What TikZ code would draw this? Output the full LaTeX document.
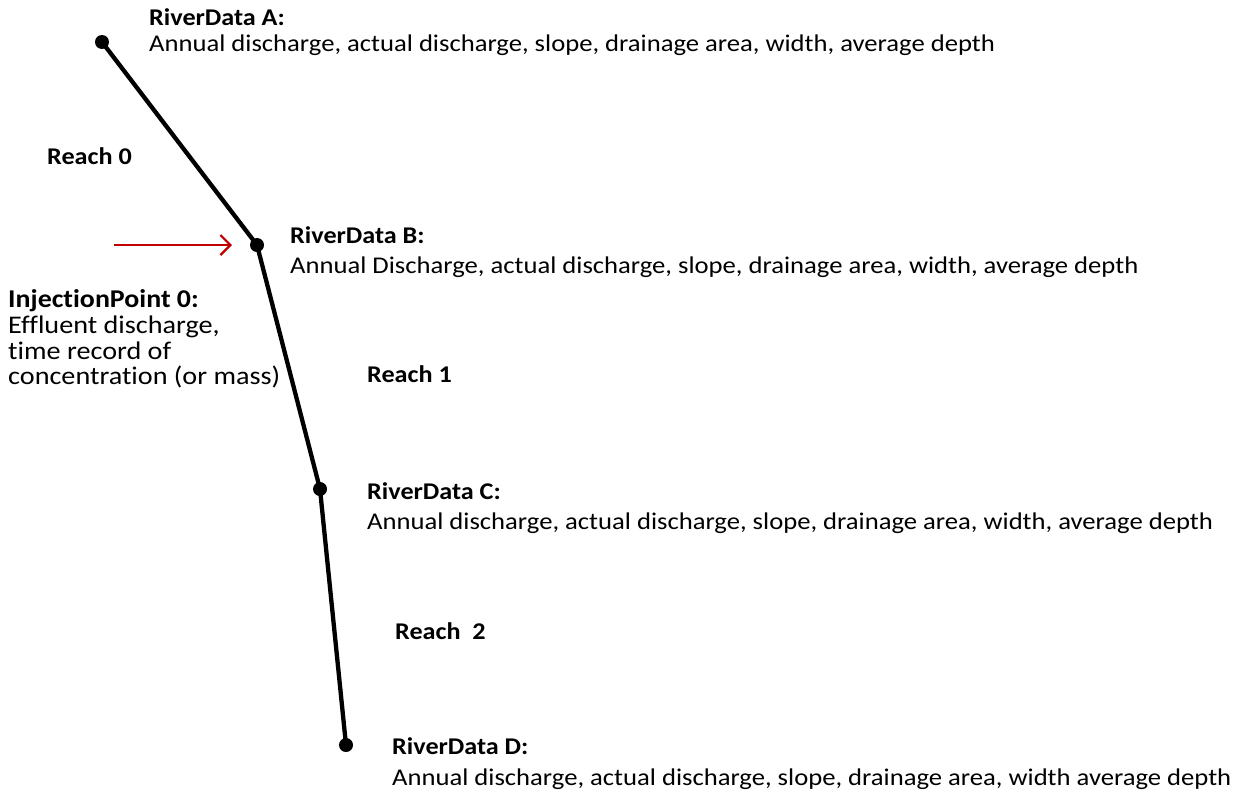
\documentclass[tikz,border=0pt]{standalone}
\usepackage{fontspec}
\setmainfont{Carlito}
\newfontfamily\regf{Carlito}[FakeStretch=1.11,Ligatures=NoCommon]
\newfontfamily\boldf{Carlito}[FakeStretch=1.09,Ligatures=NoCommon]
\usetikzlibrary{arrows.meta}
\definecolor{arrowred}{HTML}{C00000}
\tikzset{
  pt/.style={circle,fill=black,inner sep=0pt,minimum size=14pt},
  river/.style={line width=4.3pt,black},
  ttl/.style={anchor=base west,inner sep=0pt,font=\boldf\fontsize{24}{28}\selectfont\bfseries},
  body/.style={anchor=base west,inner sep=0pt,font=\regf\fontsize{24}{28}\selectfont},
  ittl/.style={anchor=base west,inner sep=0pt,font=\boldf\fontsize{25.6}{28}\selectfont\bfseries},
  ibody/.style={anchor=base west,inner sep=0pt,font=\regf\fontsize{25.4}{28}\selectfont},
  inj/.style={draw=arrowred,line width=2.2pt,-{Straight Barb[length=10pt,width=20pt,line width=2.2pt]}}
}
\begin{document}
\begin{tikzpicture}[x=1pt,y=-1pt]
\useasboundingbox (0,0) rectangle (1246,795);
\node[pt] (A) at (102,42) {};
\node[pt] (B) at (257,245) {};
\node[pt] (C) at (320,489) {};
\node[pt] (D) at (346,745) {};
\draw[river] (A.center) -- (B.center) -- (C.center) -- (D.center);
\coordinate (injstart) at (114,245);
\coordinate (injend) at (232,245);
\draw[inj] (injstart) -- (injend);

\node[ttl] (tA) at (149,25) {RiverData A:};
\node[body] (bA) at (149,51) {Annual discharge, actual discharge, slope, drainage area, width, average depth};
\node[ttl] (r0) at (47,164) {Reach 0};
\node[ttl] (tB) at (290,243) {RiverData B:};
\node[body] (bB) at (290,273) {Annual Discharge, actual discharge, slope, drainage area, width, average depth};
\node[ittl] (tI) at (8,307) {InjectionPoint 0:};
\node[ibody] (bI1) at (8,333) {Effluent discharge,};
\node[ibody] (bI2) at (8,359) {time record of};
\node[ibody] (bI3) at (8,384) {concentration (or mass)};
\node[ttl] (r1) at (367,382) {Reach 1};
\node[ttl] (tC) at (367,499) {RiverData C:};
\node[body] (bC) at (367,529) {Annual discharge, actual discharge, slope, drainage area, width, average depth};
\node[ttl] (r2) at (395,639) {Reach\ \ 2};
\node[ttl] (tD) at (392,754) {RiverData D:};
\node[body] (bD) at (392,785) {Annual discharge, actual discharge, slope, drainage area, width average depth};
\end{tikzpicture}
\end{document}
